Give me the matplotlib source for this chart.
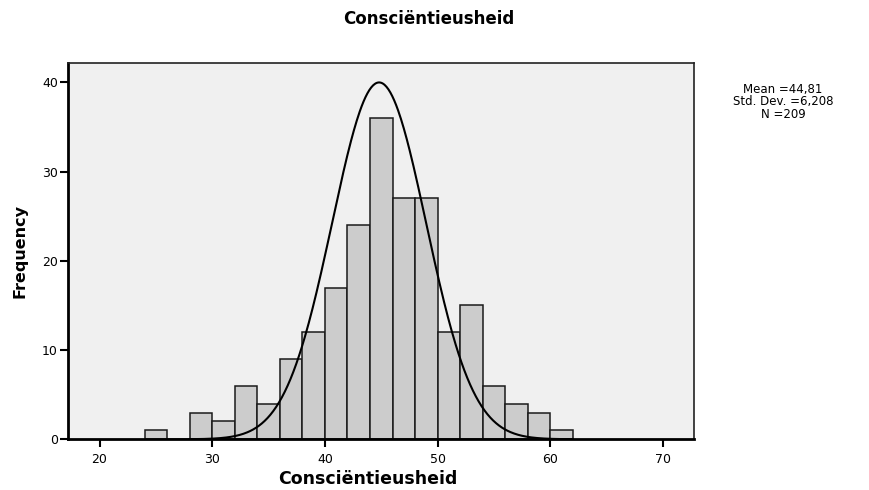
import numpy as np
import matplotlib
matplotlib.use("Agg")
import matplotlib.pyplot as plt

plt.rcParams['font.family'] = ['DejaVu Sans']

# Data
bin_edges = [24, 26, 28, 30, 32, 34, 36, 38, 40, 42, 44, 46, 48, 50, 52, 54, 56, 58, 60, 62]
counts = [1, 0, 3, 2, 6, 4, 9, 12, 17, 24, 36, 27, 27, 12, 15, 6, 4, 3, 1]
x_ticks = [20, 30, 40, 50, 60, 70]
y_ticks = [0, 10, 20, 30, 40]
mean_val = 44.81
curve_sd = 4.17
n_obs = 209
bin_width = 2
stats_lines = ["Mean =44,81", "Std. Dev. =6,208", "N =209"]
title = "Consciëntieusheid"
xlabel = "Consciëntieusheid"
ylabel = "Frequency"

fig = plt.figure(figsize=(8.69, 4.90), dpi=100)
ax = fig.add_axes([0.0777, 0.1035, 0.7209, 0.7685])
ax.set_facecolor('#F0F0F0')

lefts = bin_edges[:-1]
widths = np.diff(bin_edges)
ax.bar(lefts, counts, width=widths, align='edge', color='#CCCCCC',
       edgecolor='#1a1a1a', linewidth=1.1, zorder=2)

xs = np.linspace(28, 62, 400)
ys = n_obs * bin_width / (curve_sd * np.sqrt(2 * np.pi)) * np.exp(-0.5 * ((xs - mean_val) / curve_sd) ** 2)
ax.plot(xs, ys, color='black', linewidth=1.5, zorder=3)

ax.set_xlim(17.16, 72.75)
ax.set_ylim(0, 42.2)
ax.set_xticks(x_ticks)
ax.set_yticks(y_ticks)
ax.tick_params(axis='x', direction='out', length=6, width=1.5, labelsize=9, colors='black', pad=4)
ax.tick_params(axis='y', direction='out', length=6, width=1.5, labelsize=9, colors='black', pad=1)

for side in ['left', 'bottom']:
    ax.spines[side].set_linewidth(2.0)
    ax.spines[side].set_color('black')
for side in ['top', 'right']:
    ax.spines[side].set_linewidth(1.2)
    ax.spines[side].set_color('#222222')

ax.set_xlabel(xlabel, fontsize=12.5, fontweight='bold')
ax.xaxis.set_label_coords(0.48, -0.082)
ax.set_ylabel(ylabel, fontsize=11.5, fontweight='bold')
ax.yaxis.set_label_coords(-0.064, 0.5)

fig.text(0.493, 0.962, title, ha='center', va='center', fontsize=12, fontweight='bold')

fig.text(0.901, 0.792, "\n".join(stats_lines), ha='center', va='center', fontsize=8.5,
         linespacing=0.95)

fig.savefig("out.png", dpi=100)
